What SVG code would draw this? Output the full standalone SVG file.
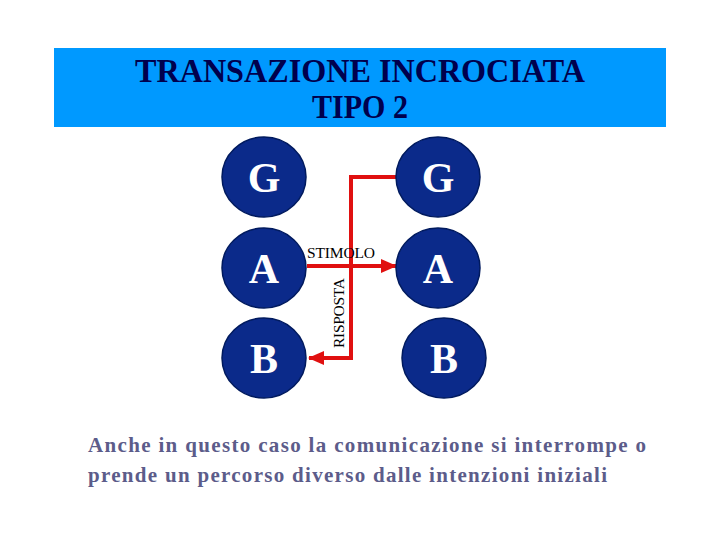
<svg xmlns="http://www.w3.org/2000/svg" width="720" height="540" viewBox="0 0 720 540">
<style>
.node{fill:#0b2a8a;stroke:#001a5e;stroke-width:1.5}
.lbl{font-family:"Liberation Serif",serif;font-weight:bold;font-size:42px;fill:#ffffff;text-anchor:middle}
.title{font-family:"Liberation Serif",serif;font-weight:bold;font-size:34px;fill:#00004d;text-anchor:middle}
.wire{fill:none;stroke:#e01010;stroke-width:4}
.small{font-family:"Liberation Serif",serif;font-size:15.5px;fill:#000000}
.body{font-family:"Liberation Serif",serif;font-weight:bold;font-size:21px;fill:#5c5c8a}
</style>
<defs>
<marker id="ah" markerWidth="16" markerHeight="14" refX="15" refY="7" orient="auto" markerUnits="userSpaceOnUse">
<path d="M0,0 L16,7 L0,14 z" fill="#e01010"/>
</marker>
</defs>
<rect x="54" y="48" width="612" height="79" fill="#0099ff"/>
<text class="title" x="360" y="82" textLength="450" lengthAdjust="spacingAndGlyphs">TRANSAZIONE INCROCIATA</text>
<text class="title" x="360" y="118" textLength="96" lengthAdjust="spacingAndGlyphs">TIPO 2</text>
<g id="connectors">
<path class="wire" d="M397,177 H351 V358 H309" marker-end="url(#ah)"/>
<path class="wire" d="M307,266 H396" marker-end="url(#ah)"/>
<text class="small" x="307" y="258" textLength="68">STIMOLO</text>
<text class="small" transform="translate(344,313) rotate(-90)" text-anchor="middle" textLength="70">RISPOSTA</text>
</g>
<g id="G1"><ellipse class="node" cx="264" cy="177" rx="42" ry="40"/><text class="lbl" x="264" y="192">G</text></g>
<g id="A1"><ellipse class="node" cx="264" cy="268" rx="42" ry="40"/><text class="lbl" x="264" y="283">A</text></g>
<g id="B1"><ellipse class="node" cx="264" cy="358" rx="42" ry="40"/><text class="lbl" x="264" y="373">B</text></g>
<g id="G2"><ellipse class="node" cx="438" cy="177" rx="42" ry="40"/><text class="lbl" x="438" y="192">G</text></g>
<g id="A2"><ellipse class="node" cx="438" cy="268" rx="42" ry="40"/><text class="lbl" x="438" y="283">A</text></g>
<g id="B2"><ellipse class="node" cx="444" cy="358" rx="42" ry="40"/><text class="lbl" x="444" y="373">B</text></g>
<text class="body" x="88" y="452" textLength="558" lengthAdjust="spacing">Anche in questo caso la comunicazione si interrompe o</text>
<text class="body" x="88" y="482" textLength="519" lengthAdjust="spacing">prende un percorso diverso dalle intenzioni iniziali</text>
</svg>
